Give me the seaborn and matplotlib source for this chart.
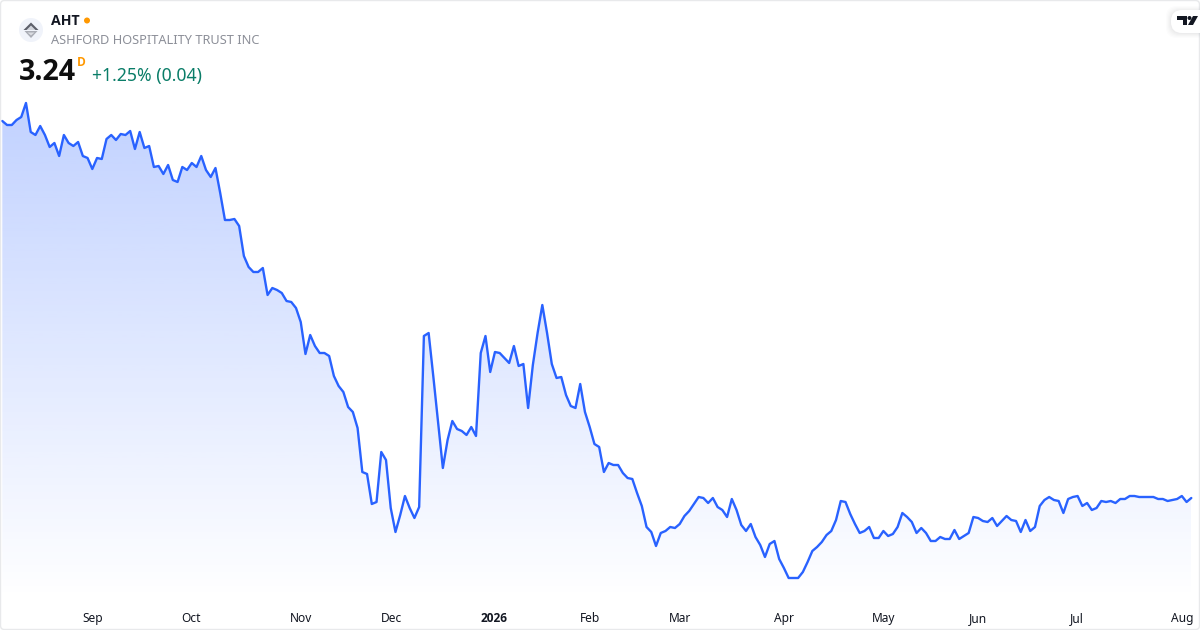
import numpy as np
import pandas as pd
import matplotlib.pyplot as plt
from matplotlib.patches import Circle, FancyBboxPatch, Polygon
import seaborn as sns

# daily closes
prices_2025_a = [
    7.01, 6.97, 6.97, 7.02, 7.05, 7.19, 6.90, 6.87, 6.96, 6.87, 6.75, 6.79, 6.66, 6.87, 6.79, 6.76,
    6.80, 6.66, 6.64, 6.53, 6.64, 6.63, 6.83, 6.87, 6.82, 6.88, 6.87, 6.91, 6.73, 6.90, 6.74, 6.76,
    6.55, 6.56, 6.48, 6.57, 6.42, 6.40, 6.55, 6.52, 6.59, 6.55, 6.66, 6.52, 6.45, 6.54, 6.29, 6.02,
    6.02, 6.03, 5.96, 5.66, 5.55, 5.50, 5.50, 5.54, 5.27, 5.34, 5.32, 5.29, 5.21, 5.20, 5.14, 5.00,
    4.68, 4.87, 4.76, 4.69, 4.69, 4.66, 4.46, 4.36, 4.30, 4.15, 4.10, 3.94, 3.50, 3.48, 3.18, 3.20,
    3.70, 3.62, 3.14, 2.90, 3.07, 3.26, 3.14, 3.04, 3.15, 4.86, 4.89, 4.45, 3.99, 3.54, 3.82, 4.01,
    3.93, 3.91, 3.87, 3.95, 3.86,
]
prices_2026_a = [
    4.69, 4.86, 4.50, 4.70, 4.69, 4.64, 4.59, 4.76, 4.56, 4.58, 4.14, 4.57, 4.89, 5.17, 4.89, 4.58,
    4.44, 4.45, 4.27, 4.16, 4.14, 4.38, 4.10, 3.95, 3.78, 3.75, 3.50, 3.59, 3.57, 3.57, 3.49, 3.44,
    3.43, 3.29, 3.16, 2.95, 2.90, 2.76, 2.89, 2.91, 2.95, 2.94, 2.98, 3.06, 3.11, 3.18, 3.25, 3.24,
    3.19, 3.24, 3.15, 3.12, 3.05, 3.23, 3.12, 2.97, 2.91, 2.98, 2.85, 2.77, 2.65, 2.78, 2.81, 2.63,
    2.54, 2.44, 2.44, 2.44, 2.50, 2.60, 2.71, 2.75, 2.80, 2.87, 2.91, 3.02, 3.21, 3.20, 3.08, 2.98,
]
prices_2026_b = [
    2.89, 2.91, 2.95, 2.84, 2.84, 2.91, 2.86, 2.88, 2.95, 3.09, 3.05, 3.00, 2.89, 2.94, 2.89, 2.81,
    2.81, 2.85, 2.83, 2.83, 2.92, 2.83, 2.86, 2.89, 3.05, 3.04, 3.01, 3.00, 3.04, 2.96, 3.01, 3.06,
    3.02, 3.01, 2.90, 3.02, 2.91, 2.95, 3.16, 3.22, 3.25, 3.22, 3.21, 3.09, 3.23, 3.25, 3.26, 3.16,
    3.19, 3.12, 3.14, 3.21, 3.20, 3.21, 3.19, 3.23, 3.23, 3.26, 3.26, 3.25, 3.25, 3.25, 3.25, 3.23,
    3.23, 3.21, 3.22, 3.23, 3.26, 3.20, 3.24,
]
tick_labels = ['Sep', 'Oct', 'Nov', 'Dec', '2026', 'Feb', 'Mar', 'Apr', 'May', 'Jun', 'Jul', 'Aug']
tick_bars = [19.1, 39.8, 63.1, 82.1, 103.8, 124.1, 143.1, 165.0, 186.1, 206.0, 226.9, 249.0]

LINE_COLOR = '#2962FF'
WIDTH, HEIGHT = 1200, 630

prices = prices_2025_a + prices_2026_a + prices_2026_b
df = pd.DataFrame({'bar': np.arange(len(prices)), 'close': prices})

sns.set_theme(style='white')
plt.rcParams['font.family'] = ['Noto Sans', 'DejaVu Sans']
BOLD_FONT = ['Open Sans', 'DejaVu Sans']

fig = plt.figure(figsize=(WIDTH / 100, HEIGHT / 100), dpi=100, facecolor='white')
ax = fig.add_axes([0, 30 / HEIGHT, 1, 570 / HEIGHT])

# gradient under the line, clipped to the area of the series
step = (1191.3 - 2.3) / (len(prices) - 1)
xlim = (-2.3 / step, (WIDTH - 2.3) / step)
ylim = (8.22 - 600 / 100, 8.22 - 30 / 100)
top = df['close'].max()
area = ax.fill_between(df['bar'], df['close'], ylim[0], facecolor='none', edgecolor='none')
alpha = np.linspace(0.29, 0.0, 256).reshape(-1, 1)
rgba = np.ones((256, 1, 4))
rgba[..., 0], rgba[..., 1], rgba[..., 2] = 41 / 255, 98 / 255, 1.0
rgba[..., 3] = alpha
img = ax.imshow(rgba, aspect='auto', origin='upper', zorder=1,
                extent=(0, len(prices) - 1, ylim[0], top))
img.set_clip_path(area.get_paths()[0], transform=ax.transData)

sns.lineplot(data=df, x='bar', y='close', color=LINE_COLOR, linewidth=1.7, ax=ax, zorder=2)

ax.set_xlim(*xlim)
ax.set_ylim(*ylim)
ax.set_xticks(tick_bars)
ax.set_xticklabels(tick_labels, fontsize=8.6, color='#131722')
for label in ax.get_xticklabels():
    label.set_verticalalignment('baseline')
year_label = ax.get_xticklabels()[4]
year_label.set_fontweight('bold')
year_label.set_family(BOLD_FONT)
ax.tick_params(axis='x', length=0, pad=15.8)
ax.set_yticks([])
ax.set_xlabel('')
ax.set_ylabel('')
ax.patch.set_alpha(0)
sns.despine(ax=ax, left=True, bottom=True)

# overlay in pixel coordinates for the header and the logos
over = fig.add_axes([0, 0, 1, 1], facecolor='none')
over.set_xlim(0, WIDTH)
over.set_ylim(HEIGHT, 0)
over.axis('off')

over.add_patch(FancyBboxPatch((0.5, 0.5), WIDTH - 1, HEIGHT - 1, boxstyle='round,pad=0,rounding_size=4',
                              facecolor='none', edgecolor='#E8E9EB', linewidth=1))

# symbol logo
over.add_patch(Circle((31, 30), 12, facecolor='#F0F3FA', edgecolor='none'))
over.add_patch(Polygon([(31, 22.5), (38.5, 30), (23.5, 30)], facecolor='#5D606B', edgecolor='none'))
over.add_patch(Polygon([(31, 25.5), (35.5, 30), (26.5, 30)], facecolor='#D1D4DC', edgecolor='none'))
over.add_patch(Polygon([(24.5, 31), (37.5, 31), (31, 38)], facecolor='#A9ACB5', edgecolor='none'))
over.add_patch(Polygon([(27.5, 32.5), (34.5, 32.5), (31, 35.5)], facecolor='#DADCE2', edgecolor='none'))

over.text(51, 21, 'AHT', fontsize=10.2, fontweight='bold', family=BOLD_FONT, color='#131722', va='center', ha='left')
over.add_patch(Circle((87, 20.5), 3, facecolor='#FF9800', edgecolor='none'))
over.text(51, 41, 'ASHFORD HOSPITALITY TRUST INC', fontsize=9.2, color='#8C8F98', va='center', ha='left')
over.text(19, 73, '3.24', fontsize=20.5, fontweight='bold', family=BOLD_FONT, color='#0F0F0F', va='center', ha='left')
over.text(77, 62, 'D', fontsize=8.6, fontweight='bold', family=BOLD_FONT, color='#FF9800', va='center', ha='left')
over.text(92, 76, '+1.25% (0.04)', fontsize=12.7, color='#0A7D68', va='center', ha='left')

# chart provider badge with a soft shadow
for grow, shade in [(5, 0.03), (4, 0.04), (3, 0.05), (2, 0.06), (1, 0.07)]:
    over.add_patch(FancyBboxPatch((1171 - grow, 11 - grow), 40 + 2 * grow, 22 + 2 * grow,
                                  boxstyle='round,pad=0,rounding_size=11',
                                  facecolor='#B2B5BE', edgecolor='none', alpha=shade, zorder=3))
over.add_patch(FancyBboxPatch((1171, 10), 40, 23, boxstyle='round,pad=0,rounding_size=11',
                              facecolor='white', edgecolor='none', zorder=4))
over.add_patch(Polygon([(1177, 16), (1187, 16), (1187, 25), (1183, 25), (1183, 20), (1177, 20)],
                       facecolor='#131722', edgecolor='none', zorder=5))
over.add_patch(Circle((1189.5, 18), 2, facecolor='#131722', edgecolor='none', zorder=5))
over.add_patch(Polygon([(1193, 16), (1198, 16), (1193, 25), (1188, 25)], facecolor='#131722', edgecolor='none', zorder=5))
over.set_xlim(0, WIDTH)
over.set_ylim(HEIGHT, 0)

fig.savefig('out.png', dpi=100)
plt.close(fig)
